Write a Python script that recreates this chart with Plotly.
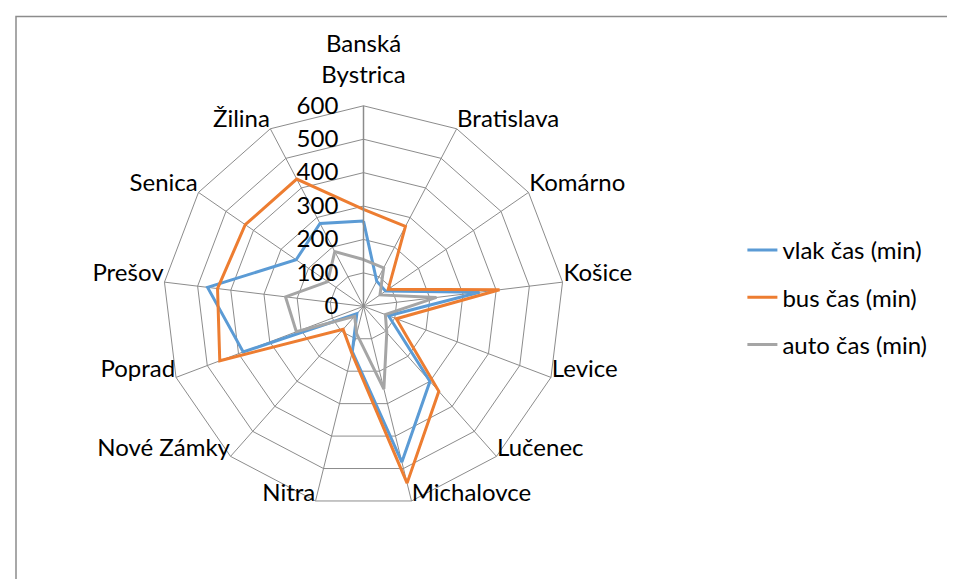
#!/usr/bin/env python3
"""Radar chart of travel times by train, bus and car."""

import plotly.graph_objects as go

categories = [
    "Banská Bystrica", "Bratislava", "Komárno", "Košice", "Levice", "Lučenec",
    "Michalovce", "Nitra", "Nové Zámky", "Poprad", "Prešov", "Senica", "Žilina",
]
tick_labels = [
    "Banská<br>Bystrica", "Bratislava", "Komárno", "Košice", "Levice", "Lučenec",
    "Michalovce", "Nitra", "Nové Zámky", "Poprad", "Prešov", "Senica", "Žilina",
]
vlak = [255, 85, 80, 350, 80, 300, 480, 140, 30, 385, 470, 245, 280]
bus = [290, 270, 90, 410, 105, 340, 545, 145, 92, 460, 440, 430, 430]
auto = [140, 130, 60, 220, 70, 105, 255, 85, 40, 215, 235, 130, 185]

series = [
    ("vlak čas (min)", vlak, "#5B9BD5"),
    ("bus čas (min)", bus, "#ED7D31"),
    ("auto čas (min)", auto, "#A5A5A5"),
]

FONT = "Lato"
FS = 24
GRID = "#8c8c8c"
RMAX = 600
RLAB = 700  # radial range of the overlay that carries the category labels

fig = go.Figure()
for i, (name, vals, color) in enumerate(series):
    fig.add_trace(go.Scatterpolar(
        r=vals + vals[:1],
        theta=categories + categories[:1],
        mode="lines",
        name=name,
        legendgroup=f"g{i}",
        line=dict(color=color, width=3),
    ))

# category labels just outside the outer ring, Excel-style
label_pos = []
label_r = []
for i in range(len(categories)):
    if i == 0:
        label_pos.append("top center")
        label_r.append(650)
    elif i <= 6:
        label_pos.append("middle right")
        label_r.append(622)
    else:
        label_pos.append("middle left")
        label_r.append(622)

fig.add_trace(go.Scatterpolar(
    r=label_r,
    theta=categories,
    mode="text",
    text=tick_labels,
    textposition=label_pos,
    textfont=dict(family=FONT, size=FS, color="black"),
    cliponaxis=False,
    showlegend=False,
    hoverinfo="skip",
    subplot="polar2",
))

# target: center (362.7, 298.3) px, radius ~193 px (empirically corrected)
cx, cy, rad = 355.5, 579 - 298.3, 200.5
rad2 = rad * RLAB / RMAX * 0.969
cy2 = cy + 7


def dom(x0, y0, r):
    return dict(x=[(x0 - r) / 955, (x0 + r) / 955],
                y=[(y0 - r) / 579, (y0 + r) / 579])


ang_common = dict(
    rotation=90,
    direction="clockwise",
    type="category",
    categoryarray=categories,
)

fig.update_layout(
    width=955,
    height=579,
    margin=dict(l=0, r=0, t=0, b=0),
    paper_bgcolor="white",
    font=dict(family=FONT, size=FS, color="black"),
    polar=dict(
        domain=dom(cx, cy, rad),
        bgcolor="white",
        gridshape="linear",
        angularaxis=dict(
            **ang_common,
            showticklabels=False,
            showline=True,
            linecolor=GRID,
            linewidth=1,
            gridcolor=GRID,
            gridwidth=1,
            ticks="",
        ),
        radialaxis=dict(
            range=[0, RMAX],
            dtick=100,
            angle=90,
            tickangle=90,
            side="counterclockwise",
            showline=True,
            linecolor=GRID,
            linewidth=1.5,
            gridcolor=GRID,
            gridwidth=1,
            ticks="outside",
            ticklen=16,
            tickcolor="rgba(0,0,0,0)",
            tickfont=dict(family=FONT, size=FS),
        ),
    ),
    polar2=dict(
        domain=dom(cx, cy2, rad2),
        bgcolor="rgba(0,0,0,0)",
        gridshape="linear",
        angularaxis=dict(**ang_common, visible=False),
        radialaxis=dict(range=[0, RLAB], visible=False),
    ),
    legend=dict(
        x=0.769,
        y=0.50,
        yanchor="middle",
        font=dict(family=FONT, size=FS),
        tracegroupgap=13,
        traceorder="grouped",
        bgcolor="rgba(0,0,0,0)",
    ),
    shapes=[dict(
        type="rect", xref="paper", yref="paper",
        x0=8 / 955, y0=-0.1, x1=1.1, y1=1 - 8.5 / 579,
        line=dict(color=GRID, width=1.5),
    )],
)

fig.write_html("out.html")
